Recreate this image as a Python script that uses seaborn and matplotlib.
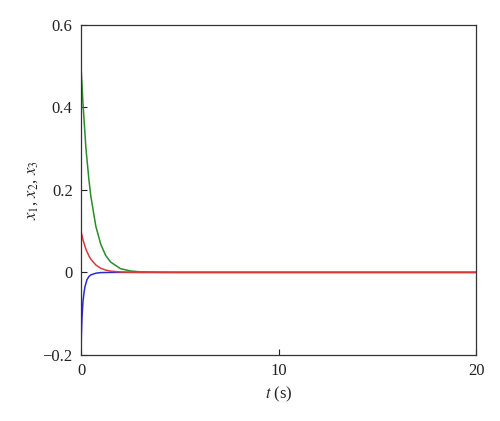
import pandas as pd
import matplotlib
matplotlib.use("Agg")
import matplotlib.pyplot as plt
import seaborn as sns

# values
t_green = [0, 0.1, 0.25, 0.4, 0.5, 0.75, 1.0, 1.25, 1.5, 2.0, 2.5, 3.0, 4.0, 5.0, 20]
x2 = [0.5, 0.41, 0.30, 0.225, 0.184, 0.112, 0.068, 0.041, 0.025, 0.009, 0.0034, 0.0012, 0.0002, 0.0, 0.0]

t_red = [0, 0.1, 0.25, 0.4, 0.5, 0.75, 1.0, 1.25, 1.5, 2.0, 2.5, 3.0, 20]
x1 = [0.1, 0.079, 0.056, 0.040, 0.032, 0.018, 0.010, 0.0056, 0.003, 0.001, 0.0003, 0.0, 0.0]

t_blue = [0, 0.02, 0.05, 0.1, 0.15, 0.2, 0.3, 0.4, 0.5, 0.75, 1.0, 1.5, 2.0, 20]
x3 = [-0.2, -0.15, -0.11, -0.07, -0.05, -0.035, -0.018, -0.010, -0.006, -0.002, -0.0005, -0.0001, 0.0, 0.0]

sns.set_style("ticks")
plt.rcParams['font.family'] = ['Liberation Serif', 'DejaVu Serif']
plt.rcParams['mathtext.fontset'] = 'stix'

fig = plt.figure(figsize=(5, 4.21), dpi=100)
ax = fig.add_axes([0.162, 0.157, 0.79, 0.784])

# blue first, red last (red lies on top along zero)
sns.lineplot(x=t_blue, y=x3, ax=ax, color="#2a2ad0", linewidth=1.1)
sns.lineplot(x=t_green, y=x2, ax=ax, color="#2a8c2a", linewidth=1.1)
sns.lineplot(x=t_red, y=x1, ax=ax, color="#d93a3a", linewidth=1.1)

ax.set_xlim(0, 20)
ax.set_ylim(-0.2, 0.6)
ax.set_xticks([0, 10, 20])
ax.set_yticks([-0.2, 0, 0.2, 0.4, 0.6])
ax.set_yticklabels(["\u22120.2", "0", "0.2", "0.4", "0.6"])
ax.tick_params(direction="in", length=4, width=0.8, labelsize=12, pad=6,
               top=False, right=False, colors="#222222")
for s in ax.spines.values():
    s.set_visible(True)
    s.set_linewidth(0.9)
    s.set_color("#333333")

ax.set_xlabel("$t$ (s)", fontsize=12, labelpad=4)
ax.set_ylabel("$x_1$, $x_2$, $x_3$", fontsize=12, labelpad=2)

fig.savefig("out.png", dpi=100)
